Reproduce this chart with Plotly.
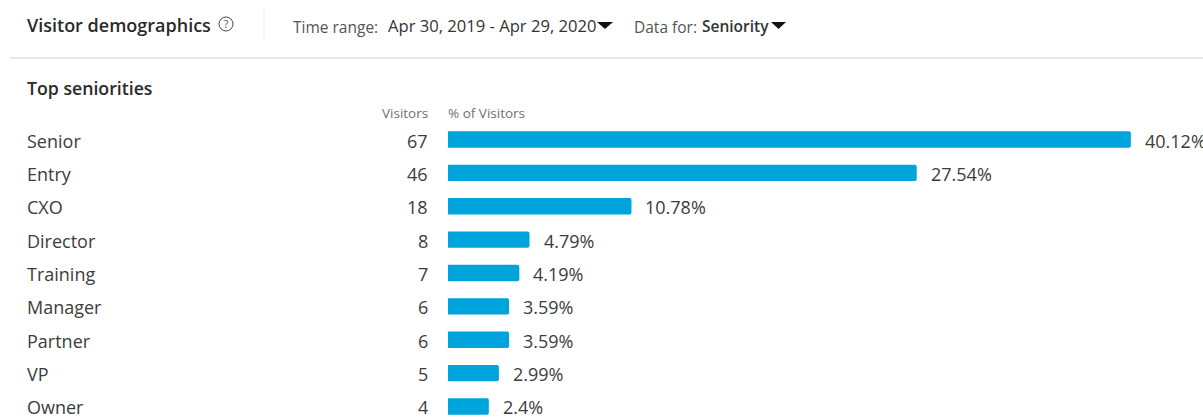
import plotly.graph_objects as go

categories = ["Senior", "Entry", "CXO", "Director", "Training", "Manager", "Partner", "VP", "Owner"]
visitors = [67, 46, 18, 8, 7, 6, 6, 5, 4]
percent = [40.12, 27.54, 10.78, 4.79, 4.19, 3.59, 3.59, 2.99, 2.4]
percent_labels = ["40.12%", "27.54%", "10.78%", "4.79%", "4.19%", "3.59%", "3.59%", "2.99%", "2.4%"]

W, H = 1203, 418
FONT = "Open Sans"
INK = "#3c3c3c"
MUTED = "#6f6f6f"
BAR = "#00a4dc"
RULE = "#e8e8e8"


def px(x):
    return x / W


def py(y):
    return 1 - y / H


def label(x, y, text, size=16, color=INK, anchor="left", weight=400):
    return dict(
        xref="paper", yref="paper", x=px(x), y=py(y), text=text, showarrow=False,
        xanchor=anchor, yanchor="middle", borderpad=0, borderwidth=0,
        font=dict(family=FONT, size=size, color=color, weight=weight),
    )


def row_text(xref, x, i, text, anchor, xshift=0):
    return dict(
        xref=xref, yref="y", x=x, y=i, xshift=xshift, yshift=-1, text=text, showarrow=False,
        xanchor=anchor, yanchor="middle", borderpad=0, borderwidth=0,
        font=dict(family=FONT, size=18, color=INK),
    )


def triangle(x0, x1, y0, y1):
    xa, xb, xm = px(x0), px(x1), px((x0 + x1) / 2)
    return dict(type="path", xref="paper", yref="paper", line_width=0, fillcolor="#111111",
                path=f"M {xa} {py(y0)} L {xb} {py(y0)} L {xm} {py(y1)} Z")


fig = go.Figure(go.Bar(
    x=percent, y=list(range(len(categories))), orientation="h", width=0.49,
    marker=dict(color=BAR, cornerradius=2, line_width=0),
    hoverinfo="skip",
))

annotations = [
    label(27, 25, "Visitor demographics", 18, "#2a2a2a", weight=600),
    label(226, 24, "?", 10, "#444444", "center"),
    label(293, 27, "Time range:", 15.5, "#555555"),
    label(388, 26, "Apr 30, 2019 - Apr 29, 2020", 16.6, "#333333"),
    label(634, 27, "Data for:", 15.5, "#555555"),
    label(702, 26, "Seniority", 15.5, "#333333", weight=600),
    label(27, 88, "Top seniorities", 17.7, "#2a2a2a", weight=600),
    label(428, 113, "Visitors", 13.5, MUTED, "right"),
    label(448, 113, "% of Visitors", 13.5, MUTED),
]
for i, name in enumerate(categories):
    annotations.append(row_text("paper", px(27), i, name, "left"))
    annotations.append(row_text("paper", px(428), i, str(visitors[i]), "right"))
    annotations.append(row_text("x", percent[i], i, percent_labels[i], "left", xshift=14))

shapes = [
    dict(type="line", xref="paper", yref="paper", x0=px(264), x1=px(264), y0=py(9), y1=py(40),
         line=dict(color=RULE, width=1)),
    dict(type="line", xref="paper", yref="paper", x0=px(10), x1=1, y0=py(58), y1=py(58),
         line=dict(color=RULE, width=2)),
    dict(type="circle", xref="paper", yref="paper", x0=px(219), x1=px(233), y0=py(31), y1=py(17),
         line=dict(color="#444444", width=1)),
    triangle(597, 613, 22, 29),
    triangle(771, 786, 22, 29),
]

fig.update_layout(
    width=W, height=H, margin=dict(l=0, r=0, t=0, b=0), autosize=False,
    paper_bgcolor="white", plot_bgcolor="white", showlegend=False,
    xaxis=dict(domain=[px(448), 1], range=[0, 44.36], visible=False),
    yaxis=dict(domain=[0, 1], range=[8.345, -4.18], visible=False),
    annotations=annotations, shapes=shapes,
)

fig.write_html("out.html", config=dict(displayModeBar=False))
